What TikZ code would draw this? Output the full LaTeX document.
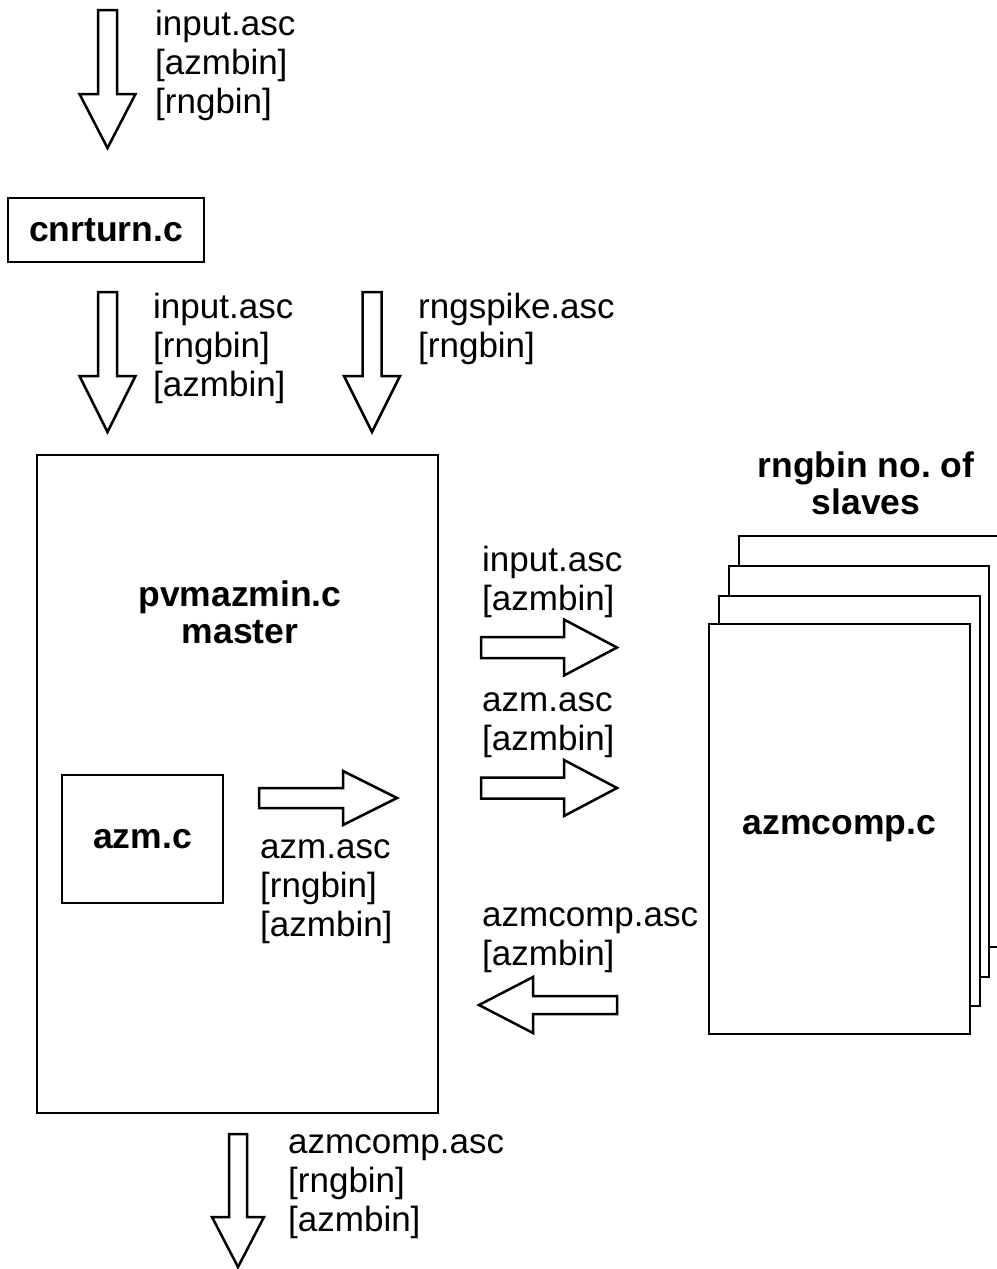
\documentclass[tikz,border=0pt]{standalone}
\usepackage{fontspec}
\setmainfont{Liberation Sans}
\frenchspacing
\newcommand{\dnarr}[6]{% cx, top, shaft half, head base y, head half, tip y
  \draw[blk] (#1-#3,#2) -- (#1+#3,#2) -- (#1+#3,#4) -- (#1+#5,#4) -- (#1,#6) -- (#1-#5,#4) -- (#1-#3,#4) -- cycle;}
\newcommand{\hzarr}[6]{% tail x, cy, shaft half, head base x, head half, tip x
  \draw[blk] (#1,#2-#3) -- (#4,#2-#3) -- (#4,#2-#5) -- (#6,#2) -- (#4,#2+#5) -- (#4,#2+#3) -- (#1,#2+#3) -- cycle;}
\begin{document}
\begin{tikzpicture}[x=1pt,y=-1pt,
  box/.style={draw, line width=2.8pt, fill=white, inner sep=0pt,
    font=\fontsize{35.5}{39}\selectfont\bfseries},
  sheet/.style={draw, line width=2.8pt, fill=white},
  blk/.style={draw, line width=2.5pt, line join=miter, fill=white},
  lbl/.style={font=\fontsize{35}{39}\selectfont, align=left, anchor=base west, inner sep=0pt},
  ttl/.style={font=\fontsize{35.5}{37}\selectfont\bfseries, align=center, anchor=base, inner sep=0pt}]
\useasboundingbox[fill=white] (0,0) rectangle (996,1269);

% top input (anchor = baseline of last line)
\dnarr{107.5}{10}{9.5}{94}{28}{148}
\node[lbl] (lin1) at (155,113) {input.asc\\{}[azmbin]\\{}[rngbin]};

% cnrturn
\node[box, minimum width=196, minimum height=64] (cnr) at (106,230) {cnrturn.c};

% second row
\dnarr{107.5}{292}{9.5}{376}{28}{432}
\node[lbl] (lin2) at (153,396) {input.asc\\{}[rngbin]\\{}[azmbin]};
\dnarr{372}{292}{9.5}{376}{28}{432}
\node[lbl] (lspk) at (418,357) {rngspike.asc\\{}[rngbin]};

% master
\node[box, minimum width=401, minimum height=658] (master) at (237.5,784) {};
\node[ttl] (mtxt) at (240,643) {pvmazmin.c\\master};
\node[box, minimum width=161, minimum height=128] (azm) at (142.5,839) {azm.c};
\hzarr{259}{798}{10}{343}{27}{397}
\node[lbl] (lazm) at (260,936) {azm.asc\\{}[rngbin]\\{}[azmbin]};

% slaves
\node[ttl] (stxt) at (866,514) {rngbin no. of\\slaves};
\draw[sheet] (998,536) -- (739,536) -- (739,947) -- (998,947);
\draw[sheet] (729,566) rectangle (989,977);
\draw[sheet] (719,596) rectangle (980,1006);
\node[box, minimum width=261, minimum height=410] (slave) at (839.5,829) {azmcomp.c};

% master <-> slaves
\node[lbl] (lsin) at (482,610) {input.asc\\{}[azmbin]};
\hzarr{481}{647.5}{10.5}{564}{28}{617}
\node[lbl] (lsazm) at (482,750) {azm.asc\\{}[azmbin]};
\hzarr{481}{788}{10.5}{564}{28}{617}
\node[lbl] (lsout) at (482,965) {azmcomp.asc\\{}[azmbin]};
\hzarr{617}{1005}{9}{533}{28}{479}

% output
\dnarr{238}{1134}{9}{1217}{26}{1267}
\node[lbl] (lout) at (288,1231) {azmcomp.asc\\{}[rngbin]\\{}[azmbin]};
\end{tikzpicture}
\end{document}
